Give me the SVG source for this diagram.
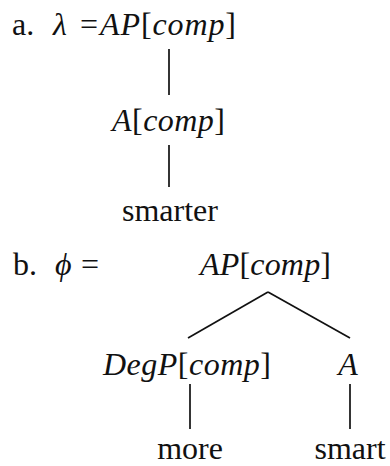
<svg xmlns="http://www.w3.org/2000/svg" width="390" height="466" viewBox="0 0 390 466">
<style>
.edge{stroke:#111;stroke-width:1.7;fill:none}
</style>
<rect width="390" height="466" fill="#fff"/>
<g id="label-a">
<text x="12" y="35" font-family="'Liberation Serif', serif" font-size="32" fill="#111">a.</text>
<text x="53" y="35" font-family="'Liberation Serif', serif" font-size="32" fill="#111" font-style="italic">λ</text>
<text x="80" y="35" font-family="'Liberation Serif', serif" font-size="32" fill="#111">=</text>
</g>
<g id="a-AP">
<text x="100" y="35" textLength="136" lengthAdjust="spacing" font-family="'Liberation Serif', serif" font-size="32" fill="#111"><tspan font-style="italic">AP</tspan>[<tspan font-style="italic">comp</tspan>]</text>
</g>
<g id="a-A">
<text x="112" y="131" textLength="113" lengthAdjust="spacing" font-family="'Liberation Serif', serif" font-size="32" fill="#111"><tspan font-style="italic">A</tspan>[<tspan font-style="italic">comp</tspan>]</text>
</g>
<g id="a-smarter">
<text x="170" y="221" text-anchor="middle" font-family="'Liberation Serif', serif" font-size="32" fill="#111">smarter</text>
</g>
<g id="label-b">
<text x="13" y="275" font-family="'Liberation Serif', serif" font-size="32" fill="#111">b.</text>
<text x="55" y="275" font-family="'Liberation Serif', serif" font-size="32" fill="#111" font-style="italic">ϕ</text>
<text x="81" y="275" font-family="'Liberation Serif', serif" font-size="32" fill="#111">=</text>
</g>
<g id="b-AP">
<text x="200" y="275" textLength="131" lengthAdjust="spacing" font-family="'Liberation Serif', serif" font-size="32" fill="#111"><tspan font-style="italic">AP</tspan>[<tspan font-style="italic">comp</tspan>]</text>
</g>
<g id="b-DegP">
<text x="103" y="375" textLength="168" lengthAdjust="spacing" font-family="'Liberation Serif', serif" font-size="32" fill="#111"><tspan font-style="italic">DegP</tspan>[<tspan font-style="italic">comp</tspan>]</text>
</g>
<g id="b-A">
<text x="348" y="375" text-anchor="middle" font-style="italic" font-family="'Liberation Serif', serif" font-size="32" fill="#111">A</text>
</g>
<g id="b-more">
<text x="190" y="459" text-anchor="middle" font-family="'Liberation Serif', serif" font-size="32" fill="#111">more</text>
</g>
<g id="b-smart">
<text x="350" y="459" text-anchor="middle" font-family="'Liberation Serif', serif" font-size="32" fill="#111">smart</text>
</g>
<g id="connectors">
<line class="edge" x1="169" y1="49" x2="169" y2="95"/>
<line class="edge" x1="169" y1="145" x2="169" y2="187"/>
<line class="edge" x1="268" y1="292" x2="188" y2="338"/>
<line class="edge" x1="268" y1="292" x2="350" y2="338"/>
<line class="edge" x1="190" y1="384" x2="190" y2="429"/>
<line class="edge" x1="350" y1="384" x2="350" y2="429"/>
</g>
</svg>
